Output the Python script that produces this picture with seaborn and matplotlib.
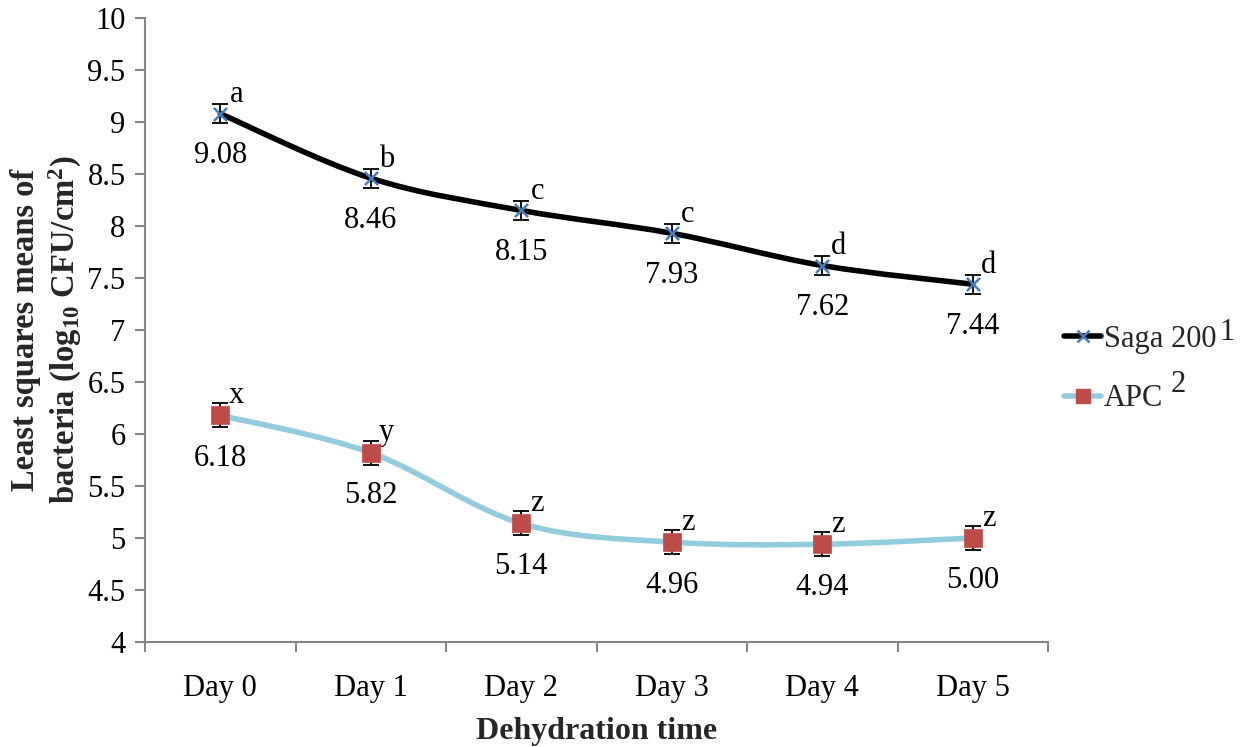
import numpy as np
import pandas as pd
import matplotlib
matplotlib.use("Agg")
import matplotlib.pyplot as plt
from matplotlib.path import Path
from matplotlib.patches import PathPatch
from matplotlib.lines import Line2D
import seaborn as sns

# ---- data ----
days = ["Day 0", "Day 1", "Day 2", "Day 3", "Day 4", "Day 5"]
saga = [9.08, 8.46, 8.15, 7.93, 7.62, 7.44]
saga_err = [0.09, 0.09, 0.09, 0.09, 0.09, 0.09]
saga_letters = ["a", "b", "c", "c", "d", "d"]
apc = [6.18, 5.82, 5.14, 4.96, 4.94, 5.00]
apc_err = [0.115, 0.115, 0.115, 0.115, 0.115, 0.115]
apc_letters = ["x", "y", "z", "z", "z", "z"]
value_labels_saga = ["9.08", "8.46", "8.15", "7.93", "7.62", "7.44"]
value_labels_apc = ["6.18", "5.82", "5.14", "4.96", "4.94", "5.00"]
yticks = [4, 4.5, 5, 5.5, 6, 6.5, 7, 7.5, 8, 8.5, 9, 9.5, 10]

sns.set_theme(style="white")
plt.rcParams["font.family"] = ["Liberation Serif", "DejaVu Serif"]
plt.rcParams["mathtext.fontset"] = "custom"
plt.rcParams["mathtext.rm"] = "Liberation Serif:bold"
plt.rcParams["mathtext.bf"] = "Liberation Serif:bold"
plt.rcParams["mathtext.it"] = "Liberation Serif:bold"

FS = 22
AXC = "#868686"
SAGA_LINE = "black"
SAGA_MK = "#4A7EBB"
APC_LINE = "#93CDDD"
APC_MK = "#BE4B48"

fig = plt.figure(figsize=(12.51, 7.47), dpi=100)
ax = fig.add_axes([145 / 1251, 1 - 642 / 747, (1048 - 145) / 1251, (642 - 18) / 747])

df = pd.DataFrame({
    "day": days * 2,
    "x": list(range(len(days))) * 2,
    "value": saga + apc,
    "err": saga_err + apc_err,
    "series": ["Saga 200"] * len(days) + ["APC"] * len(days),
})


def smooth_path(xs, ys):
    # Excel-style smoothed line: cubic Bezier segments through the data points
    pts = np.column_stack([xs, ys]).astype(float)
    n = len(pts)
    verts = [tuple(pts[0])]
    codes = [Path.MOVETO]
    for i in range(n - 1):
        p0 = pts[i - 1] if i > 0 else pts[i]
        p1 = pts[i]
        p2 = pts[i + 1]
        p3 = pts[i + 2] if i + 2 < n else pts[i + 1]
        c1 = p1 + (p2 - p0) / 6.0
        c2 = p2 - (p3 - p1) / 6.0
        verts += [tuple(c1), tuple(c2), tuple(p2)]
        codes += [Path.CURVE4] * 3
    return Path(verts, codes)


for name, color in [("Saga 200", SAGA_LINE), ("APC", APC_LINE)]:
    sub = df[df.series == name]
    patch = PathPatch(smooth_path(sub.x.values, sub.value.values), facecolor="none",
                      edgecolor=color, lw=4, capstyle="round", joinstyle="round", zorder=2)
    ax.add_patch(patch)
    ax.errorbar(sub.x, sub.value, yerr=sub.err, fmt="none", ecolor="black",
                elinewidth=1.3, capsize=6, capthick=1.3, zorder=3)

sub_s = df[df.series == "Saga 200"]
sub_a = df[df.series == "APC"]
sns.scatterplot(data=sub_s, x="x", y="value", marker="x", s=90, color=SAGA_MK,
                linewidth=1.8, ax=ax, zorder=4, legend=False)
sns.scatterplot(data=sub_a, x="x", y="value", marker="s", s=150, color=APC_MK,
                edgecolor=APC_MK, linewidth=0.5, ax=ax, zorder=4, legend=False)

for i in range(len(days)):
    ax.annotate(value_labels_saga[i], (i, saga[i]), xytext=(0, -42), textcoords="offset pixels",
                ha="center", va="center", fontsize=FS, color="black")
    ax.annotate(saga_letters[i], (i, saga[i]), xytext=(16, 19), textcoords="offset pixels",
                ha="center", va="center", fontsize=FS, color="black")
    ax.annotate(value_labels_apc[i], (i, apc[i]), xytext=(0, -43), textcoords="offset pixels",
                ha="center", va="center", fontsize=FS, color="black")
    ax.annotate(apc_letters[i], (i, apc[i]), xytext=(16, 20), textcoords="offset pixels",
                ha="center", va="center", fontsize=FS, color="black")

ax.set_xlim(-0.5, len(days) - 0.5)
ax.set_ylim(4, 10)
ax.set_yticks(yticks)
ax.set_yticklabels([f"{v:g}" for v in yticks])
ax.set_xticks(range(len(days)))
ax.set_xticklabels(days)
ax.set_xticks(np.arange(-0.5, len(days), 1.0), minor=True)
ax.tick_params(axis="x", which="major", length=0, pad=23, labelsize=FS, colors="black")
ax.tick_params(axis="x", which="minor", length=7, width=1.5, color=AXC, direction="out", bottom=True)
ax.tick_params(axis="y", which="major", length=7, width=1.5, color=AXC, direction="out",
               pad=7, labelsize=FS, labelcolor="black", left=True)

for s in ["top", "right"]:
    ax.spines[s].set_visible(False)
for s in ["left", "bottom"]:
    ax.spines[s].set_color(AXC)
    ax.spines[s].set_linewidth(1.5)
ax.grid(False)

ax.set_xlabel("Dehydration time", fontsize=23, fontweight="bold", labelpad=10)
ax.set_ylabel("Least squares means of\nbacteria (log$_{10}$ CFU/cm$^{2}$)", fontsize=23.5,
              fontweight="bold", va="center", ha="center", multialignment="center",
              linespacing=1.2)
ax.yaxis.set_label_coords(-98 / 903, 0.5)

handles = [
    Line2D([], [], color=SAGA_LINE, lw=4, marker="x", markersize=9, markeredgecolor=SAGA_MK,
           markeredgewidth=1.8),
    Line2D([], [], color=APC_LINE, lw=4, marker="s", markersize=10, markerfacecolor=APC_MK,
           markeredgecolor=APC_MK),
]
leg = fig.legend(handles, ["Saga 200", "APC"], loc="center left",
                 bbox_to_anchor=(1052 / 1251, 1 - 369 / 747), frameon=False, fontsize=FS,
                 handlelength=1.2, handletextpad=0.1, labelspacing=1.0, borderaxespad=0)
fig.text(1227 / 1251, 1 - 333 / 747, "1", fontsize=FS, ha="center", va="center")
fig.text(1178 / 1251, 1 - 385 / 747, "2", fontsize=FS, ha="center", va="center")

fig.savefig("out.png", dpi=100)
